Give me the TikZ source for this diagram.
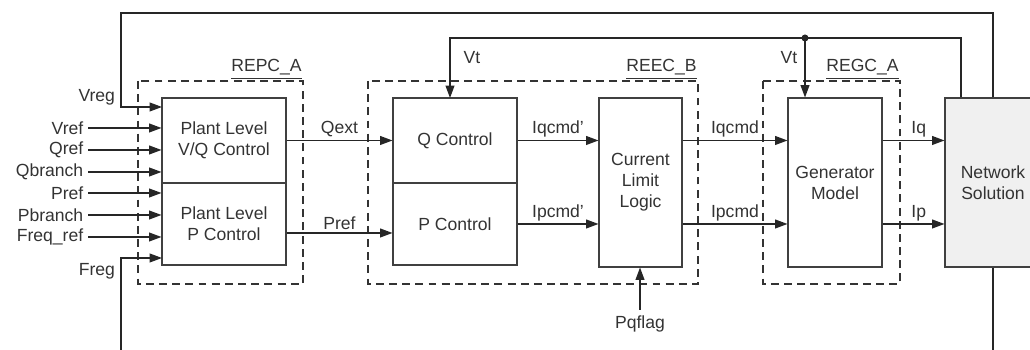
\documentclass[tikz,border=0pt]{standalone}
\usepackage{fontspec}
\setmainfont{Liberation Sans}
\usetikzlibrary{calc,arrows.meta}
\tikzset{
	blk/.style={draw=black!75, line width=0.6pt, inner sep=0pt, align=center, text=black!80},
	sig/.style={draw=black!85, line width=0.75pt, -{Triangle[length=7pt,width=5pt]}},
	wire/.style={draw=black!85, line width=0.75pt},
	grp/.style={draw=black!80, line width=0.6pt, dash pattern=on 4.5pt off 3pt},
	lbl/.style={text=black!80, inner sep=1.5pt},
	grplbl/.style={text=black!80, inner sep=0pt, anchor=base east},
}

\begin{document}
\begin{tikzpicture}[x=0.02cm, y=-0.02cm, font=\fontsize{10}{12}\selectfont]
			%%%%% START %%%%%
			\useasboundingbox (0,0) rectangle (1030,350);
			\clip (0,0) rectangle (1030,350);
			
			% groups
			\draw[grp] (138,81) rectangle (303,284);
			\draw[grp] (368,81) rectangle (698,284);
			\draw[grp] (763,81) rectangle (900,284);
			\node[grplbl] at (302,72) {\underline{REPC\_A}};
			\node[grplbl] at (697,72) {\underline{REEC\_B}};
			\node[grplbl] at (899,72) {\underline{REGC\_A}};
			
			% blocks
			\node[blk, minimum width=2.48cm, minimum height=1.7cm] (vq) at (224,140.5) {Plant Level\\V/Q Control};
			\node[blk, minimum width=2.48cm, minimum height=1.64cm] (pc) at (224,224) {Plant Level\\P Control};
			\node[blk, minimum width=2.48cm, minimum height=1.7cm] (qc) at (455,140.5) {Q Control};
			\node[blk, minimum width=2.48cm, minimum height=1.64cm] (pctl) at (455,224) {P Control};
			\node[blk, minimum width=1.66cm, minimum height=3.38cm] (cll) at (640.5,182.5) {Current\\Limit\\Logic};
			\node[blk, minimum width=1.88cm, minimum height=3.38cm] (gen) at (835,182.5) {Generator\\Model};
			\node[blk, fill=gray!12, minimum width=1.92cm, minimum height=3.38cm] (net) at (993,182.5) {Network\\Solution};
			
			% plant inputs
			\foreach \i/\y/\t in {1/128/Vref, 2/150/Qref, 3/172/Qbranch}{
				\node[lbl, anchor=east, inner sep=2.5pt] (in\i) at (88,\y) {\t};
				\draw[sig] (in\i.east) -- (in\i.east -| vq.west);
			}
			\foreach \i/\y/\t in {4/193/Pref, 5/215/Pbranch, 6/237/Freq\_ref}{
				\node[lbl, anchor=east, inner sep=2.5pt] (in\i) at (88,\y) {\t};
				\draw[sig] (in\i.east) -- (in\i.east -| pc.west);
			}
			
			% feedback loops
			\coordinate (lt) at (121,13);
			\coordinate (vreg) at (162,107);
			\coordinate (lb) at (121,350);
			\coordinate (freg) at (162,258);
			\coordinate (nb) at (993,350);
			\coordinate (vtr) at (961,38);
			\coordinate (tap) at (805,38);
			\coordinate (qcin) at (450,98);
			\coordinate (pq) at (640,310);
			
			\draw[sig] (net.north) |- (lt) |- (vreg);
			\node[lbl, anchor=east] at (118,97) {Vreg};
			\draw[sig] (lb) |- (freg);
			\node[lbl, anchor=east] at (118,271) {Freg};
			\draw[wire] (net.south) -- (nb);
			
			\draw[sig] (net.north -| vtr) -- (vtr) -| (qcin);
			\fill[black!85] (tap) circle (3.5);
			\draw[sig] (tap) -- (tap |- gen.north);
			\node[lbl] at (472,58) {Vt};
			\node[lbl] at (789,58) {Vt};
			
			% signals
			\draw[sig] (vq.east |- qc.west) -- node[lbl, above] {Qext} (qc.west);
			\draw[sig] ($(pc.east)+(0,9)$) -- node[lbl, above] {Pref} ($(pctl.west)+(0,9)$);
			\draw[sig] (qc.east) -- node[lbl, above] {Iqcmd'} (qc.east -| cll.west);
			\draw[sig] (pctl.east) -- node[lbl, above] {Ipcmd'} (pctl.east -| cll.west);
			\draw[sig] (cll.east |- qc.east) -- node[lbl, above] {Iqcmd} (qc.east -| gen.west);
			\draw[sig] (cll.east |- pctl.east) -- node[lbl, above] {Ipcmd} (pctl.east -| gen.west);
			\draw[sig] (gen.east |- qc.east) -- node[lbl, above, xshift=3pt] {Iq} (qc.east -| net.west);
			\draw[sig] (gen.east |- pctl.east) -- node[lbl, above, xshift=3pt] {Ip} (pctl.east -| net.west);
			
			\draw[sig] (pq) -- (pq |- cll.south);
			\node[lbl, anchor=north, inner sep=3pt] at (pq) {Pqflag};
			%%%%% END %%%%%
\end{tikzpicture}
\end{document}
